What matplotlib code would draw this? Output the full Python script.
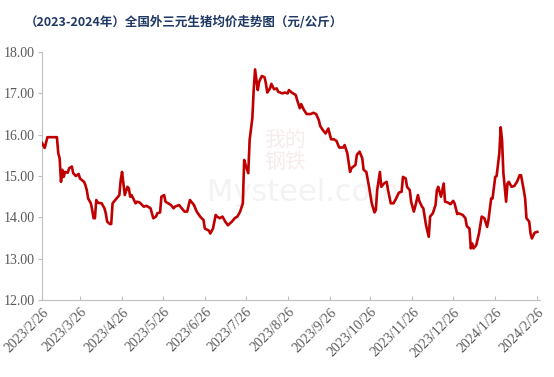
import matplotlib
matplotlib.use("Agg")
import matplotlib.pyplot as plt
import matplotlib.dates as mdates
import pandas as pd
import numpy as np

title = "（2023-2024年）全国外三元生猪均价走势图（元/公斤）"

dates = [
    "2023-02-26", "2023-02-28", "2023-03-02", "2023-03-09", "2023-03-10", "2023-03-11",
    "2023-03-12", "2023-03-13", "2023-03-14", "2023-03-15", "2023-03-17", "2023-03-18",
    "2023-03-20", "2023-03-21", "2023-03-23", "2023-03-25", "2023-03-26", "2023-03-29",
    "2023-03-30", "2023-03-31", "2023-04-01", "2023-04-03", "2023-04-04", "2023-04-05",
    "2023-04-06", "2023-04-07", "2023-04-08", "2023-04-09", "2023-04-11", "2023-04-13",
    "2023-04-14", "2023-04-15", "2023-04-17", "2023-04-18", "2023-04-19", "2023-04-20",
    "2023-04-22", "2023-04-24", "2023-04-25", "2023-04-26", "2023-04-27", "2023-04-28",
    "2023-04-30", "2023-05-01", "2023-05-02", "2023-05-03", "2023-05-06", "2023-05-07",
    "2023-05-09", "2023-05-12", "2023-05-14", "2023-05-17", "2023-05-19", "2023-05-21",
    "2023-05-22", "2023-05-24", "2023-05-25", "2023-05-27", "2023-05-28", "2023-06-01",
    "2023-06-03", "2023-06-04", "2023-06-07", "2023-06-11", "2023-06-13", "2023-06-15",
    "2023-06-18", "2023-06-20", "2023-06-23", "2023-06-25", "2023-06-26", "2023-06-29",
    "2023-06-30", "2023-07-02", "2023-07-04", "2023-07-05", "2023-07-07", "2023-07-09",
    "2023-07-11", "2023-07-13", "2023-07-16", "2023-07-18", "2023-07-20", "2023-07-22",
    "2023-07-24", "2023-07-25", "2023-07-26", "2023-07-28", "2023-07-29", "2023-07-31",
    "2023-08-01", "2023-08-02", "2023-08-04", "2023-08-05", "2023-08-07", "2023-08-09",
    "2023-08-10", "2023-08-11", "2023-08-13", "2023-08-14", "2023-08-16", "2023-08-18",
    "2023-08-19", "2023-08-22", "2023-08-24", "2023-08-26", "2023-08-27", "2023-08-29",
    "2023-09-01", "2023-09-02", "2023-09-04", "2023-09-05", "2023-09-07", "2023-09-09",
    "2023-09-12", "2023-09-14", "2023-09-16", "2023-09-18", "2023-09-19", "2023-09-21",
    "2023-09-23", "2023-09-25", "2023-09-27", "2023-09-29", "2023-10-01", "2023-10-03",
    "2023-10-06", "2023-10-07", "2023-10-09", "2023-10-11", "2023-10-12", "2023-10-15",
    "2023-10-16", "2023-10-18", "2023-10-20", "2023-10-21", "2023-10-23", "2023-10-25",
    "2023-10-27", "2023-10-29", "2023-10-30", "2023-10-31", "2023-11-02", "2023-11-03",
    "2023-11-05", "2023-11-07", "2023-11-08", "2023-11-10", "2023-11-12", "2023-11-14",
    "2023-11-16", "2023-11-18", "2023-11-19", "2023-11-21", "2023-11-22", "2023-11-24",
    "2023-11-25", "2023-11-27", "2023-11-28", "2023-11-30", "2023-12-01", "2023-12-03",
    "2023-12-04", "2023-12-06", "2023-12-08", "2023-12-09", "2023-12-11", "2023-12-13",
    "2023-12-14", "2023-12-15", "2023-12-17", "2023-12-19", "2023-12-20", "2023-12-22",
    "2023-12-24", "2023-12-26", "2023-12-27", "2023-12-29", "2023-12-30", "2024-01-02",
    "2024-01-04", "2024-01-05", "2024-01-07", "2024-01-08", "2024-01-09", "2024-01-10",
    "2024-01-12", "2024-01-14", "2024-01-16", "2024-01-18", "2024-01-20", "2024-01-21",
    "2024-01-23", "2024-01-24", "2024-01-26", "2024-01-27", "2024-01-29", "2024-01-30",
    "2024-01-31", "2024-02-01", "2024-02-03", "2024-02-04", "2024-02-05", "2024-02-07",
    "2024-02-09", "2024-02-11", "2024-02-13", "2024-02-14", "2024-02-16", "2024-02-17",
    "2024-02-18", "2024-02-20", "2024-02-21", "2024-02-22", "2024-02-24", "2024-02-26",
]

prices = [
    15.80, 15.68, 15.94, 15.94, 15.55, 15.43,
    14.86, 15.15, 14.98, 15.10, 15.08, 15.19,
    15.23, 15.07, 15.00, 15.05, 14.94, 14.86,
    14.78, 14.66, 14.46, 14.34, 14.18, 13.98,
    13.98, 14.42, 14.36, 14.35, 14.34, 14.22,
    14.10, 13.90, 13.84, 13.84, 14.34, 14.38,
    14.46, 14.54, 14.90, 15.10, 14.82, 14.54,
    14.74, 14.70, 14.50, 14.54, 14.34, 14.38,
    14.36, 14.26, 14.28, 14.22, 13.98, 14.02,
    14.10, 14.12, 14.50, 14.54, 14.38, 14.30,
    14.22, 14.26, 14.30, 14.14, 14.14, 14.42,
    14.30, 14.14, 14.00, 13.94, 13.73, 13.68,
    13.61, 13.73, 14.06, 14.02, 13.98, 14.02,
    13.90, 13.81, 13.90, 13.98, 14.02, 14.14,
    14.34, 15.39, 15.27, 15.07, 15.87, 16.40,
    17.08, 17.58, 17.08, 17.28, 17.42, 17.39,
    17.24, 17.02, 17.12, 17.23, 17.10, 17.12,
    17.04, 17.00, 17.02, 17.00, 17.08, 17.02,
    16.96, 16.84, 16.64, 16.74, 16.60, 16.50,
    16.50, 16.53, 16.50, 16.35, 16.21, 16.11,
    16.03, 16.15, 15.89, 15.89, 15.85, 15.69,
    15.69, 15.75, 15.55, 15.10, 15.19, 15.27,
    15.51, 15.59, 15.43, 15.15, 15.10, 14.74,
    14.34, 14.12, 14.18, 14.66, 15.10, 14.74,
    14.82, 14.86, 14.66, 14.34, 14.34, 14.46,
    14.60, 14.62, 14.98, 14.94, 14.74, 14.66,
    14.38, 14.14, 14.26, 14.54, 14.40, 14.26,
    14.22, 13.81, 13.53, 14.02, 14.10, 14.30,
    14.66, 14.74, 14.50, 14.82, 14.38, 14.36,
    14.32, 14.40, 14.34, 14.08, 14.10, 14.06,
    13.98, 13.79, 13.73, 13.25, 13.37, 13.25,
    13.33, 13.61, 14.02, 13.98, 13.77, 13.94,
    14.46, 14.46, 14.98, 15.00, 15.55, 16.18,
    15.87, 15.07, 14.38, 14.82, 14.86, 14.74,
    14.76, 14.86, 15.02, 15.02, 14.66, 14.46,
    13.98, 13.90, 13.61, 13.49, 13.63, 13.65,
]

tick_dates = ["2023-02-26", "2023-03-26", "2023-04-26", "2023-05-26", "2023-06-26",
              "2023-07-26", "2023-08-26", "2023-09-26", "2023-10-26", "2023-11-26",
              "2023-12-26", "2024-01-26", "2024-02-26"]
tick_labels = ["2023/2/26", "2023/3/26", "2023/4/26", "2023/5/26", "2023/6/26",
               "2023/7/26", "2023/8/26", "2023/9/26", "2023/10/26", "2023/11/26",
               "2023/12/26", "2024/1/26", "2024/2/26"]
y_ticks = [12, 13, 14, 15, 16, 17, 18]

x = pd.to_datetime(dates)
xt = pd.to_datetime(tick_dates)

fig = plt.figure(figsize=(5.54, 3.77), dpi=100)
ax = fig.add_axes([0.0758, 0.204, 0.899, 0.658])

# faint watermark, beneath the data line
ax.text(0.548, 0.49, "Mysteel.com", fontsize=22, color="#F3F3F3",
        family=["DejaVu Sans"], ha="center", va="center", zorder=0,
        transform=fig.transFigure)
ax.text(0.515, 0.60, "我的\n钢铁", fontsize=15, color="#F6ECEC",
        family=["Noto Sans CJK SC"], ha="center", va="center", zorder=0,
        linespacing=1.0, transform=fig.transFigure)

ax.plot(x, prices, color="#C00000", lw=1.9, solid_joinstyle="round", zorder=3)

ax.set_ylim(12, 18)
ax.set_yticks(y_ticks)
ax.set_yticklabels([f"{v:.2f}" for v in y_ticks])
ax.set_xlim(pd.Timestamp("2023-02-26"), pd.Timestamp("2024-02-28"))
ax.set_xticks(xt)
ax.set_xticklabels(tick_labels, rotation=45, ha="right", rotation_mode="anchor")

for s in ["top", "right"]:
    ax.spines[s].set_visible(False)
for s in ["left", "bottom"]:
    ax.spines[s].set_color("#BFBFBF")
    ax.spines[s].set_linewidth(0.8)

ax.tick_params(axis="y", direction="out", length=3, color="#BFBFBF",
               labelcolor="#595959", labelsize=10, pad=2)
ax.tick_params(axis="x", direction="in", length=3, color="#BFBFBF",
               labelcolor="#595959", labelsize=10, pad=4)
for lab in ax.get_xticklabels() + ax.get_yticklabels():
    lab.set_family(["Liberation Serif"])

fig.text(0.045, 0.94, title, fontsize=9, color="#1F3864", fontweight="bold",
         family=["Noto Sans CJK SC", "DejaVu Sans"], ha="left", va="center")

fig.savefig("out.png", dpi=100)
